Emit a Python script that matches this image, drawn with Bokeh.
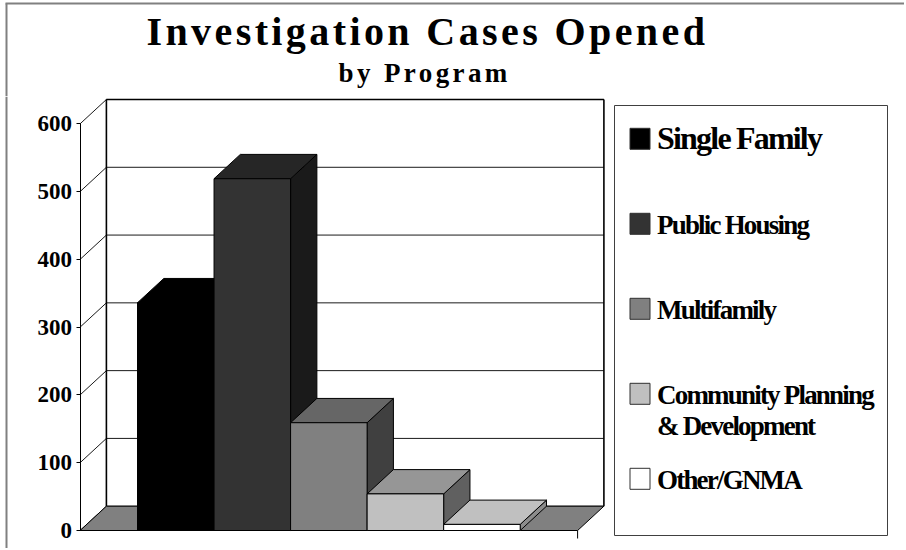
from bokeh.plotting import figure
from bokeh.layouts import column, row
from bokeh.models import Range1d, LinearAxis, FixedTicker
from bokeh.core.properties import value
from bokeh.embed import file_html
from bokeh.resources import INLINE

# ---------------- data ----------------
title = "Investigation Cases Opened"
subtitle = "by Program"
programs = ["Single Family", "Public Housing", "Multifamily",
            "Community Planning\n& Development", "Other/GNMA"]
cases = [336, 519, 159, 54, 9]
y_ticks = [0, 100, 200, 300, 400, 500, 600]
front_colors = ["#000000", "#333333", "#808080", "#c0c0c0", "#ffffff"]
top_colors = ["#000000", "#262626", "#666666", "#969696", "#c0c0c0"]
side_colors = ["#000000", "#1a1a1a", "#404040", "#606060", "#8c8c8c"]

FONT = value("Liberation Serif")
BASE_SHIFT = 0.36   # em offset Bokeh applies to alphabetic baselines here

# ---------------- layout constants (page pixels) ----------------
W_M = 610          # chart part width
W_L = 294          # legend part width
W = W_M + W_L
H_T = 96
H_M = 452
TOP_M = H_T
X0_PX, X1_PX = 79.6, 577.1      # front floor left/right
Y0_PX, Y600_PX = 530.0, 123.3   # value 0 / 600 on the front axis
DEPTH_X, DEPTH_Y = 26.3, 24.3   # 3-D depth offset in px
GAP = 0.75
n = len(cases)
x_total = n + 2 * GAP
y_max = y_ticks[-1]

x_unit = (X1_PX - X0_PX) / x_total
y_unit = (Y0_PX - Y600_PX) / y_max
ddx = DEPTH_X / x_unit
ddy = DEPTH_Y / y_unit

BORDER = dict(line_color="#808080", line_width=2)

def bare(width, height, xr, yr, **kw):
    f = figure(width=width, height=height, x_range=xr, y_range=yr,
               x_axis_location=None, y_axis_location=None, toolbar_location=None,
               output_backend="svg", min_border_left=0, min_border_right=0,
               min_border_top=0, min_border_bottom=0, outline_line_color=None, **kw)
    f.grid.visible = False
    return f

# ---------------- title figure ----------------
t = bare(W, H_T, Range1d(0, W), Range1d(H_T, 0), styles={"letter-spacing": "3.4px"})
t.text(x=[146], y=[45 - BASE_SHIFT * 40], text=[title], text_font=FONT, text_font_style="bold",
       text_font_size="40px", text_align="left", text_baseline="alphabetic", text_color="black")
t.text(x=[338], y=[82.7 - BASE_SHIFT * 27], text=[subtitle], text_font=FONT, text_font_style="bold",
       text_font_size="27px", text_align="left", text_baseline="alphabetic", text_color="black")
t.segment(x0=[6, 5], y0=[3, 3], x1=[6, W], y1=[H_T, 3], **BORDER)

# ---------------- main chart figure ----------------
xr = Range1d(-X0_PX / x_unit, (W_M - X0_PX) / x_unit)
yr = Range1d((Y0_PX - (TOP_M + H_M)) / y_unit, (Y0_PX - TOP_M) / y_unit)
p = bare(W_M, H_M, xr, yr)
p.extra_x_ranges = {"px": Range1d(0, W_M)}
p.extra_y_ranges = {"px": Range1d(TOP_M + H_M, TOP_M)}

# outer frame line
p.segment(x0=[6], y0=[TOP_M], x1=[6], y1=[TOP_M + H_M], x_range_name="px", y_range_name="px", **BORDER)

# walls: gridlines running from the front axis across the side wall to the back wall
gx, gy = [], []
for v in y_ticks:
    gx.append([0, ddx, x_total + ddx])
    gy.append([v, v + ddy, v + ddy])
p.multi_line(gx, gy, line_color="#1a1a1a", line_width=1)
p.multi_line([[ddx, ddx], [x_total + ddx, x_total + ddx], [ddx, x_total + ddx]],
             [[ddy, y_max + ddy], [ddy, y_max + ddy], [y_max + ddy, y_max + ddy]],
             line_color="black", line_width=1.6)

# floor
p.patch([0, x_total, x_total + ddx, ddx], [0, 0, ddy, ddy],
        fill_color="#808080", line_color="black", line_width=1)
p.segment(x0=[x_total], y0=[0], x1=[x_total], y1=[-8 / y_unit], line_color="black", line_width=1)

# bars (3-D boxes), painted left to right
xs, ys, cols = [], [], []
for i, v in enumerate(cases):
    l = GAP + i
    r = l + 1
    xs.append([r, r + ddx, r + ddx, r]); ys.append([0, ddy, v + ddy, v]); cols.append(side_colors[i])
    xs.append([l, r, r + ddx, l + ddx]); ys.append([v, v, v + ddy, v + ddy]); cols.append(top_colors[i])
    xs.append([l, r, r, l]); ys.append([0, 0, v, v]); cols.append(front_colors[i])
p.patches(xs, ys, fill_color=cols, line_color="black", line_width=1)

# value axis on the front edge
yax = LinearAxis(fixed_location=0, ticker=FixedTicker(ticks=y_ticks), bounds=(0, y_max),
                 major_tick_out=4, major_tick_in=0, minor_tick_out=0, minor_tick_in=0,
                 axis_line_color="black", axis_line_width=1, major_tick_line_color="black",
                 major_label_standoff=4, major_label_text_font="Liberation Serif",
                 major_label_text_font_style="bold", major_label_text_font_size="23px",
                 major_label_text_color="black")
p.add_layout(yax, "left")

# ---------------- legend figure ----------------
lg = bare(W_L, H_M, Range1d(W_M, W), Range1d(TOP_M + H_M, TOP_M),
          styles={"letter-spacing": "-1.8px"})
lg.quad(left=[614], right=[887], top=[105], bottom=[535], fill_color=None,
        line_color="#404040", line_width=1)
row_c = [138.3 + 85 * i for i in range(n)]
lg.quad(left=[629.5] * n, right=[649.5] * n, top=[c - 10.5 for c in row_c],
        bottom=[c + 10.5 for c in row_c], fill_color=front_colors, line_color="#303030",
        line_width=1)
lx, ly, lt, ls = [], [], [], []
for i, name in enumerate(programs):
    size = 32 if i == 0 else 27
    for k, line in enumerate(name.split("\n")):
        lx.append(656.5)
        ly.append(row_c[i] + 10.5 + 31.7 * k - BASE_SHIFT * size)
        lt.append(line)
        ls.append(f"{size}px")
lg.text(x=lx, y=ly, text=lt, text_font=FONT, text_font_style="bold", text_font_size=ls,
        text_align="left", text_baseline="alphabetic", text_color="black")

layout = column(t, row(p, lg, spacing=0), spacing=0)
open("out.html", "w").write(file_html(layout, INLINE))
